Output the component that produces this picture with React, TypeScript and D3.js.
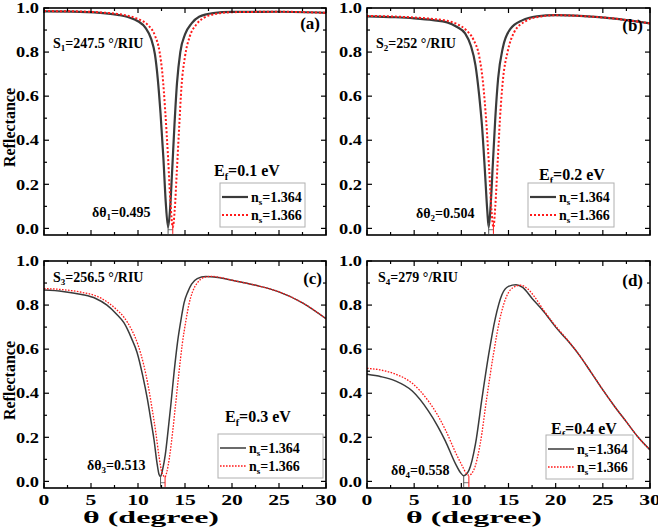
import { scaleLinear, line as d3line, curveMonotoneX, range } from "d3";

// angle (deg), reflectance
const aBlack = [[0, 0.985], [3, 0.984], [6, 0.978], [8, 0.968], [9, 0.958], [10, 0.94], [10.8, 0.91], [11.4, 0.86], [11.8, 0.79], [12.1, 0.68], [12.4, 0.52], [12.7, 0.32], [12.95, 0.12], [13.2, 0.005], [13.4, 0.08], [13.62, 0.25], [13.88, 0.47], [14.15, 0.66], [14.5, 0.8], [15, 0.88], [15.7, 0.93], [16.5, 0.96], [18, 0.977], [20, 0.982], [25, 0.983], [30, 0.978]];
const aRed = [[0, 0.986], [3, 0.985], [6, 0.98], [8, 0.972], [9, 0.964], [10, 0.95], [11, 0.925], [11.8, 0.875], [12.3, 0.8], [12.6, 0.7], [12.9, 0.53], [13.2, 0.32], [13.45, 0.12], [13.7, 0.005], [13.9, 0.08], [14.12, 0.25], [14.38, 0.46], [14.62, 0.64], [15, 0.78], [15.5, 0.87], [16.2, 0.925], [17, 0.955], [18.5, 0.975], [20, 0.981], [25, 0.983], [30, 0.978]];

const bBlack = [[0, 0.962], [3, 0.958], [5, 0.953], [7, 0.945], [8.5, 0.935], [9.5, 0.915], [10.4, 0.885], [11, 0.83], [11.5, 0.74], [11.9, 0.6], [12.2, 0.46], [12.5, 0.26], [12.75, 0.08], [12.9, 0.005], [13.1, 0.1], [13.35, 0.3], [13.6, 0.5], [13.9, 0.68], [14.4, 0.82], [15.2, 0.905], [16.5, 0.945], [18, 0.962], [20, 0.968], [23, 0.963], [26, 0.953], [30, 0.93]];
const bRed = [[0, 0.964], [3, 0.961], [5, 0.957], [7, 0.95], [8.5, 0.942], [9.5, 0.928], [10.5, 0.9], [11.3, 0.855], [11.9, 0.78], [12.3, 0.66], [12.65, 0.48], [12.95, 0.27], [13.2, 0.08], [13.4, 0.005], [13.6, 0.1], [13.85, 0.3], [14.1, 0.5], [14.4, 0.67], [14.9, 0.8], [15.6, 0.89], [16.8, 0.94], [18.2, 0.96], [20, 0.967], [23, 0.963], [26, 0.953], [30, 0.93]];

const cBlack = [[0, 0.868], [2, 0.862], [4, 0.848], [5.5, 0.83], [6.7, 0.8], [7.7, 0.76], [8.5, 0.72], [9.3, 0.65], [9.9, 0.585], [10.5, 0.48], [11, 0.373], [11.4, 0.27], [11.7, 0.19], [12, 0.09], [12.25, 0.03], [12.4, 0.022], [12.6, 0.05], [12.9, 0.12], [13.2, 0.23], [13.5, 0.35], [13.85, 0.5], [14.2, 0.63], [14.6, 0.74], [14.9, 0.81], [15.3, 0.86], [15.7, 0.895], [16.3, 0.92], [17.2, 0.93], [18.5, 0.925], [20, 0.913], [22.5, 0.89], [25, 0.86], [27.5, 0.81], [30, 0.738]];
const cRed = [[0, 0.875], [2, 0.87], [4, 0.858], [5.5, 0.842], [6.7, 0.815], [7.7, 0.78], [8.5, 0.745], [9.3, 0.69], [10, 0.62], [10.6, 0.53], [11.1, 0.43], [11.5, 0.33], [11.9, 0.22], [12.25, 0.11], [12.55, 0.04], [12.88, 0.02], [13.05, 0.04], [13.35, 0.11], [13.7, 0.23], [14, 0.35], [14.35, 0.49], [14.7, 0.62], [15.1, 0.73], [15.4, 0.8], [15.8, 0.86], [16.3, 0.9], [17, 0.925], [17.8, 0.93], [18.8, 0.925], [20, 0.913], [22.5, 0.89], [25, 0.86], [27.5, 0.81], [30, 0.738]];

const dBlack = [[0, 0.486], [1.5, 0.475], [3, 0.456], [4.8, 0.41], [6.5, 0.32], [7.5, 0.25], [8.3, 0.184], [9.4, 0.078], [9.9, 0.04], [10.25, 0.026], [10.8, 0.05], [11.5, 0.17], [12.2, 0.38], [12.9, 0.576], [13.6, 0.74], [14.3, 0.847], [15, 0.885], [15.8, 0.892], [16.5, 0.88], [17.5, 0.83], [18.75, 0.77], [20, 0.7], [21.25, 0.64], [22.5, 0.573], [23.75, 0.495], [25, 0.415], [26.25, 0.34], [27.5, 0.27], [28.75, 0.2], [30, 0.143]];
const dRed = [[0, 0.513], [1.5, 0.505], [3, 0.487], [4.8, 0.445], [6.5, 0.365], [7.5, 0.3], [8.3, 0.235], [9.4, 0.13], [10.1, 0.07], [10.55, 0.035], [10.8, 0.028], [11.3, 0.05], [12, 0.17], [12.7, 0.38], [13.4, 0.576], [14.1, 0.74], [14.8, 0.84], [15.5, 0.88], [16.3, 0.89], [17, 0.875], [17.8, 0.835], [18.75, 0.775], [20, 0.705], [21.25, 0.642], [22.5, 0.574], [23.75, 0.496], [25, 0.416], [26.25, 0.34], [27.5, 0.27], [28.75, 0.2], [30, 0.143]];

// resonance angles marked by the little bracket at the bottom of each dip
const minBlack = [13.2, 12.9, 12.4, 10.25];
const minRed = [13.7, 13.4, 12.88, 10.8];

const panelTags = ["(a)", "(b)", "(c)", "(d)"];
const sensitivity = ["247.5", "252", "256.5", "279"];
const deltaTheta = ["0.495", "0.504", "0.513", "0.558"];
const fermiLevels = ["0.1", "0.2", "0.3", "0.4"];
const legendIndex = ["1.364", "1.366"];

const xTicks = [0, 5, 10, 15, 20, 25, 30];
const yTicks = ["0.0", "0.2", "0.4", "0.6", "0.8", "1.0"];

const FONT = "'Times New Roman', 'Liberation Serif', serif";
const BLACK = "#3a3a3a";
const RED = "#ff1a1a";

const panels = [
  { box: [44, 326, 8, 235], bottom: false, s: [9, 39.5], tag: [-6, 21], ef: [203, 168], leg: [176, 175, 85], dt: [48, 209], thick: true },
  { box: [367, 650, 8, 235], bottom: false, s: [9, 39.5], tag: [-7, 23], ef: [205, 172], leg: [161, 175, 86], dt: [49, 210], thick: true },
  { box: [44, 326, 261, 488], bottom: true, s: [9, 20.5], tag: [-4, 23], ef: [214, 161], leg: [174, 173, 105], dt: [43, 209], thick: false },
  { box: [367, 650, 261, 488], bottom: true, s: [11, 20.5], tag: [-7, 25], ef: [217, 173], leg: [179, 174, 87], dt: [24, 214], thick: false },
];
const series = [[aBlack, aRed], [bBlack, bRed], [cBlack, cRed], [dBlack, dRed]];

function Panel({ i }: { i: number }) {
  const p = panels[i];
  const [x0, x1, y0, y1] = p.box;
  const x = scaleLinear().domain([0, 30]).range([x0, x1]);
  const y = scaleLinear().domain([-0.03, 1.0]).range([y1, y0]);
  const ln = d3line<number[]>()
    .x((d) => x(d[0]))
    .y((d) => y(d[1]))
    .curve(curveMonotoneX);
  const [blk, red] = series[i];
  const sw = p.thick ? 2.2 : 1.5;
  const rw = p.thick ? 2 : 1.3;
  const dash = p.thick ? "2 2" : "1.6 1.4";
  const clip = `clip-${i}`;
  const lx = x0 + p.leg[0];
  const ly = y0 + p.leg[1];

  return (
    <g>
      <defs>
        <clipPath id={clip}>
          <rect x={x0} y={y0} width={x1 - x0} height={y1 - y0} />
        </clipPath>
      </defs>

      <g clipPath={`url(#${clip})`}>
        <path d={ln(blk) ?? ""} fill="none" stroke={BLACK} strokeWidth={sw} />
        <path d={ln(red) ?? ""} fill="none" stroke={RED} strokeWidth={rw} strokeDasharray={dash} />
        {/* δθ bracket */}
        <line x1={x(minBlack[i])} x2={x(minRed[i])} y1={y(-0.006)} y2={y(-0.006)} stroke="#777" strokeWidth={1} />
        <line x1={x(minBlack[i])} x2={x(minBlack[i])} y1={y(-0.025)} y2={y(0.025)} stroke="#555" strokeWidth={1} />
        <line x1={x(minRed[i])} x2={x(minRed[i])} y1={y(-0.025)} y2={y(0.025)} stroke={RED} strokeWidth={1} />
      </g>

      {/* ticks, all pointing in */}
      {range(0, 30.01, 2.5).map((t) => {
        const len = t % 5 === 0 ? 5 : 3;
        return (
          <g key={"xt" + t} stroke="#000" strokeWidth={1.2}>
            <line x1={x(t)} x2={x(t)} y1={y1} y2={y1 - len} />
            <line x1={x(t)} x2={x(t)} y1={y0} y2={y0 + len} />
          </g>
        );
      })}
      {range(0, 10.01, 1).map((k) => {
        const t = k / 10;
        const len = k % 2 === 0 ? 5 : 3;
        return (
          <g key={"yt" + k} stroke="#000" strokeWidth={1.2}>
            <line x1={x0} x2={x0 + len} y1={y(t)} y2={y(t)} />
            <line x1={x1} x2={x1 - len} y1={y(t)} y2={y(t)} />
          </g>
        );
      })}
      <rect x={x0} y={y0} width={x1 - x0} height={y1 - y0} fill="none" stroke="#000" strokeWidth={1.6} />

      {/* tick labels */}
      {yTicks.map((t) => (
        <text key={t} x={x0 - 5} y={y(+t)} dy="0.35em" textAnchor="end" fontSize={15} fontWeight="bold"
          textLength={23} lengthAdjust="spacingAndGlyphs">{t}</text>
      ))}
      {p.bottom && xTicks.map((t) => (
        <text key={t} x={x(t)} y={y1 + 17} textAnchor="middle" fontSize={15} fontWeight="bold"
          textLength={String(t).length * 10.8} lengthAdjust="spacingAndGlyphs">{t}</text>
      ))}
      {p.bottom && (
        <text x={x0 + 107} y={y1 + 35} textAnchor="middle" fontSize={17} fontWeight="bold"
          textLength={136} lengthAdjust="spacingAndGlyphs">θ (degree)</text>
      )}
      {i % 2 === 0 && (
        <text transform={`translate(${15},${(y0 + y1) / 2 + 6}) rotate(-90)`} textAnchor="middle" fontSize={16} fontWeight="bold">Reflectance</text>
      )}

      {/* annotations */}
      <text x={x0 + p.s[0]} y={y0 + p.s[1]} fontSize={14} fontWeight="bold">
        S<tspan fontSize={9} dy={3}>{i + 1}</tspan><tspan dy={-3}>={sensitivity[i]} °/RIU</tspan>
      </text>
      <text x={x1 + p.tag[0]} y={y0 + p.tag[1]} textAnchor="end" fontSize={17} fontWeight="bold">{panelTags[i]}</text>
      <text x={x0 + p.ef[0]} y={y0 + p.ef[1]} textAnchor="middle" fontSize={16} fontWeight="bold">
        E<tspan fontSize={10} dy={4}>f</tspan><tspan dy={-4}>={fermiLevels[i]} eV</tspan>
      </text>
      <text x={x0 + p.dt[0]} y={y0 + p.dt[1]} fontSize={14} fontWeight="bold">
        δθ<tspan fontSize={9} dy={3}>{i + 1}</tspan><tspan dy={-3}>={deltaTheta[i]}</tspan>
      </text>

      {/* legend */}
      <rect x={lx} y={ly} width={p.leg[2]} height={44} fill="#fff" stroke="#b0b0b0" strokeWidth={1} />
      {legendIndex.map((n, k) => {
        const ry = ly + 14 + k * 18;
        return (
          <g key={n}>
            <line x1={lx + 2} x2={lx + 28} y1={ry} y2={ry}
              stroke={k === 0 ? BLACK : RED} strokeWidth={k === 0 ? sw : rw}
              strokeDasharray={k === 0 ? undefined : dash} />
            <text x={lx + 31} y={ry + 5} fontSize={14} fontWeight="bold">
              n<tspan fontSize={9} dy={3}>s</tspan><tspan dy={-3}>={n}</tspan>
            </text>
          </g>
        );
      })}
    </g>
  );
}

export default function App() {
  return (
    <svg width={658} height={530} style={{ position: "absolute", left: 0, top: 0, background: "#fff" }}
      fontFamily={FONT}>
      {panels.map((_, i) => (
        <Panel key={i} i={i} />
      ))}
    </svg>
  );
}
